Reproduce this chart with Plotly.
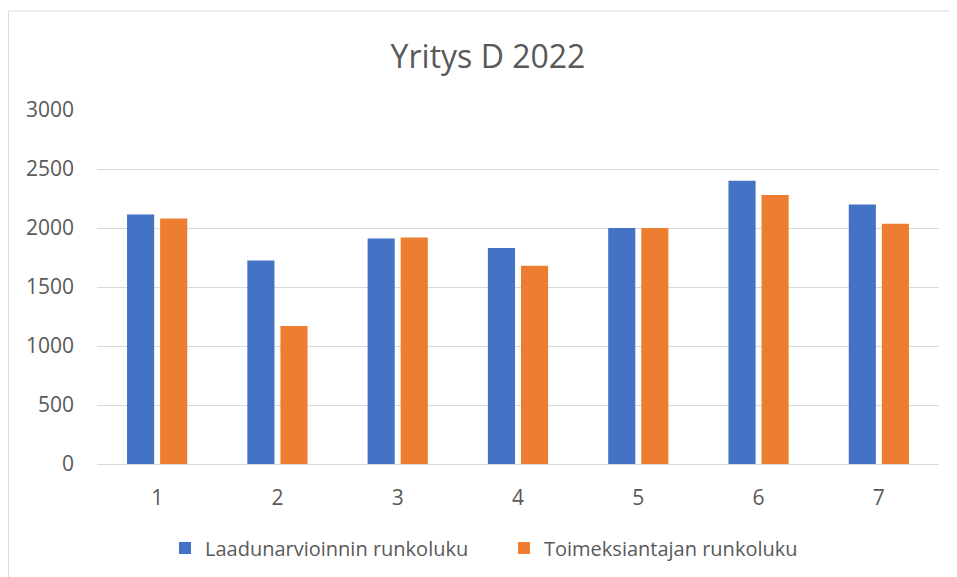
import plotly.graph_objects as go

# values
categories = ["1", "2", "3", "4", "5", "6", "7"]
laadunarviointi = [2115, 1725, 1910, 1830, 2000, 2400, 2200]
toimeksiantaja = [2080, 1170, 1920, 1680, 2000, 2280, 2035]
y_ticks = [0, 500, 1000, 1500, 2000, 2500, 3000]

BLUE = "#4472C4"
ORANGE = "#ED7D31"
GRID = "#D9D9D9"
TEXT = "#595959"
FONT = "Open Sans"

# the page body adds an 8px offset, so the figure is drawn 8px smaller/shifted
W, H = 949, 569
ML, MR, MT, MB = 89, 18, 102, 113
PW, PH = W - ML - MR, H - MT - MB

fig = go.Figure()
fig.add_trace(go.Bar(x=categories, y=laadunarviointi, name="Laadunarvioinnin runkoluku",
                     marker=dict(color=BLUE, line=dict(width=0))))
fig.add_trace(go.Bar(x=categories, y=toimeksiantaja, name="Toimeksiantajan runkoluku",
                     marker=dict(color=ORANGE, line=dict(width=0))))

# light chart-area border (only top and left edges are visible in the crop)
fig.add_shape(type="rect", xref="paper", yref="paper",
              x0=(0.5 - ML) / PW, x1=1.3, y0=-0.8, y1=(PH + MT - 3) / PH,
              line=dict(color=GRID, width=1), fillcolor="rgba(0,0,0,0)", layer="below")

fig.update_layout(
    width=W, height=H,
    margin=dict(l=ML, r=MR, t=MT, b=MB),
    paper_bgcolor="white", plot_bgcolor="white",
    font=dict(family=FONT, color=TEXT, size=20),
    title=dict(text="Yritys D 2022", font=dict(size=32, color=TEXT, family=FONT),
               x=480 / W, xanchor="center", xref="container",
               y=1 - 49 / H, yanchor="middle", yref="container"),
    barmode="group", bargap=0.45, bargroupgap=0.18,
    showlegend=True,
    legend=dict(orientation="h", x=496 / W, xanchor="center", xref="container",
                y=1 - 540 / H, yanchor="middle", yref="container",
                font=dict(size=20, color=TEXT), entrywidth=294,
                traceorder="normal"),
    hovermode=False,
)
fig.update_xaxes(showgrid=False, showline=False, ticks="", ticklabelstandoff=19,
                 tickfont=dict(size=21, color=TEXT))
fig.update_yaxes(range=[0, 3000], tickvals=y_ticks, showgrid=True, gridcolor=GRID, gridwidth=1,
                 zeroline=True, zerolinecolor=GRID, zerolinewidth=1, showline=False,
                 ticks="", ticklabelstandoff=22, tickfont=dict(size=21, color=TEXT))

fig.write_html("out.html")
